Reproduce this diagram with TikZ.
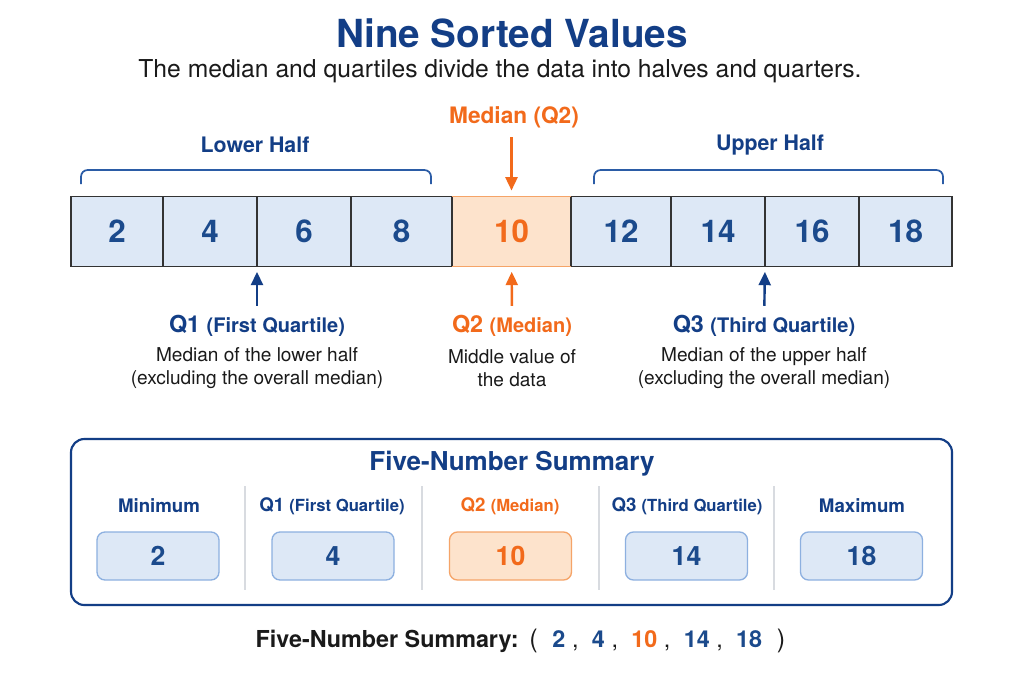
\documentclass[tikz,border=0pt]{standalone}
\usepackage{fontspec}
\setmainfont{TeX Gyre Heros}
\usetikzlibrary{arrows.meta}
\definecolor{navy}{HTML}{133E86}
\definecolor{numblue}{HTML}{1B4A8C}
\definecolor{orng}{HTML}{F26A1B}
\definecolor{cellblue}{HTML}{DDE8F6}
\definecolor{cellorng}{HTML}{FDE3CC}
\definecolor{boxedge}{HTML}{8DB0E0}
\definecolor{orngedge}{HTML}{F5A468}
\definecolor{bracecol}{HTML}{2B5CA6}
\definecolor{sepgray}{HTML}{D8DBE0}
\definecolor{txt}{HTML}{1A1A1A}
\newcommand{\fs}[1]{\fontsize{#1}{#1}\selectfont}
\tikzset{
  cell/.style={draw=black!80, line width=1.1pt, fill=cellblue, inner sep=0pt, outer sep=0pt,
    minimum height=52.5pt, font=\fs{23.5}\bfseries, text=numblue},
  medcell/.style={cell, draw=orngedge, fill=cellorng, text=orng},
  bracestyle/.style={draw=bracecol, line width=1.3pt, rounded corners=5pt},
  blbl/.style={font=\fs{16}\bfseries, text=navy, inner sep=1pt},
  barrow/.style={draw=navy, line width=1.8pt, -{Triangle[length=10pt,width=9pt]}},
  oarrow/.style={draw=orng, line width=1.8pt, -{Triangle[length=10pt,width=9pt]}},
  desc/.style={font=\fs{14.3}, text=txt, align=center, inner sep=1pt},
  valbox/.style={draw=boxedge, line width=1pt, fill=cellblue, rounded corners=6pt,
    minimum width=91.5pt, minimum height=36pt, inner sep=0pt, font=\fs{20}\bfseries, text=numblue},
  medval/.style={valbox, draw=orngedge, fill=cellorng, text=orng},
  collbl/.style={font=\fs{14}\bfseries, text=navy, inner sep=1pt},
  sep/.style={draw=sepgray, line width=0.8pt}
}
\begin{document}
\begin{tikzpicture}[x=0.75pt,y=-0.75pt]
\useasboundingbox (0,0) rectangle (1024,683);
\fill[white] (0,0) rectangle (1024,683);

% titles
\node[font=\fs{29}\bfseries, text=navy] (title) at (512,33) {Nine Sorted Values};
\node[font=\fs{18.5}, text=txt] (subtitle) at (500,71) {The median and quartiles divide the data into halves and quarters.};

% cells
\node[medcell, minimum width=89.25pt] (c5) at (511.5,231.5) {10};
\node[cell, minimum width=69pt]    (c1) at (117,231.5) {2};
\node[cell, minimum width=70.5pt]  (c2) at (210,231.5) {4};
\node[cell, minimum width=70.5pt]  (c3) at (304,231.5) {6};
\node[cell, minimum width=75.75pt] (c4) at (401.5,231.5) {8};
\node[cell, minimum width=75pt]    (c6) at (621,231.5) {12};
\node[cell, minimum width=70.5pt]  (c7) at (718,231.5) {14};
\node[cell, minimum width=70.5pt]  (c8) at (812,231.5) {16};
\node[cell, minimum width=69.75pt] (c9) at (905.5,231.5) {18};
\draw[draw=orngedge, line width=1.1pt] (c5.north west) -- (c5.north east) (c5.south west) -- (c5.south east);

% braces
\draw[bracestyle] (81,184) -- (81,170) -- (431,170) -- (431,184);
\draw[bracestyle] (594,184) -- (594,170) -- (943,170) -- (943,184);
\node[blbl] (lower) at (255,145) {Lower Half};
\node[blbl] (upper) at (770,145) {Upper Half};
\node[font=\fs{17}\bfseries, text=orng, inner sep=1pt] (medlbl) at (514,117) {Median (Q2)};
\draw[oarrow, shorten <=6pt, shorten >=4.5pt] (medlbl.south -| c5.north) -- (c5.north);

% quartile labels
\node[font=\fs{17.5}\bfseries, text=navy, inner sep=1pt] (q1) at (257,326) {Q1 {\fs{15}(First Quartile)}};
\node[font=\fs{17.5}\bfseries, text=orng, inner sep=1pt] (q2) at (512,326) {Q2 {\fs{15}(Median)}};
\node[font=\fs{17.5}\bfseries, text=navy, inner sep=1pt] (q3) at (764,326) {Q3 {\fs{15}(Third Quartile)}};
\coordinate (q1pt) at (c2.south east);
\coordinate (q3pt) at (c7.south east);
\draw[barrow, shorten <=6pt, shorten >=4pt] (q1) -- (q1pt);
\draw[oarrow, shorten <=6pt, shorten >=4pt] (q2) -- (c5);
\draw[barrow, shorten <=6pt, shorten >=4pt] (q3) -- (q3pt);

\node[desc] (d1) at (257,368) {Median of the lower half\\[3pt](excluding the overall median)};
\node[desc] (d2) at (512,368) {Middle value of\\[3pt]the data};
\node[desc] (d3) at (764,368) {Median of the upper half\\[3pt](excluding the overall median)};

% summary box
\node[draw=navy, line width=1.6pt, rounded corners=10pt, minimum width=660.75pt, minimum height=124.5pt, inner sep=0pt] (sumbox) at (511.5,522) {};
\node[font=\fs{19.5}\bfseries, text=navy] (sumtitle) at (512,464) {Five-Number Summary};
\draw[sep] (245,486) -- (245,590);
\draw[sep] (422,486) -- (422,590);
\draw[sep] (599,486) -- (599,590);
\draw[sep] (774,486) -- (774,590);

\node[collbl] (lmin) at (159,506) {Minimum};
\node[collbl] (lq1) at (332,506) {Q1 {\fs{12.5}(First Quartile)}};
\node[collbl, text=orng] (lq2) at (510,506) {Q2 {\fs{12.5}(Median)}};
\node[collbl] (lq3) at (687,506) {Q3 {\fs{12.5}(Third Quartile)}};
\node[collbl] (lmax) at (862,506) {Maximum};

\node[valbox] (vmin) at (158,556) {2};
\node[valbox] (vq1) at (333,556) {4};
\node[medval] (vq2) at (510.5,556) {10};
\node[valbox] (vq3) at (686.5,556) {14};
\node[valbox] (vmax) at (861.5,556) {18};

% bottom line
\node[font=\fs{17.5}, text=txt, inner sep=0pt] (bottom) at (520.5,641) {\textbf{Five-Number Summary:}\hspace{8pt}{\fs{19}(}\hspace{11pt}\textcolor{numblue}{\textbf{2}}\hspace{5pt},\hspace{10pt}\textcolor{numblue}{\textbf{4}}\hspace{5pt},\hspace{10pt}\textcolor{orng}{\textbf{10}}\hspace{5pt},\hspace{10pt}\textcolor{numblue}{\textbf{14}}\hspace{5pt},\hspace{10pt}\textcolor{numblue}{\textbf{18}}\hspace{11pt}{\fs{19})}};
\end{tikzpicture}
\end{document}
